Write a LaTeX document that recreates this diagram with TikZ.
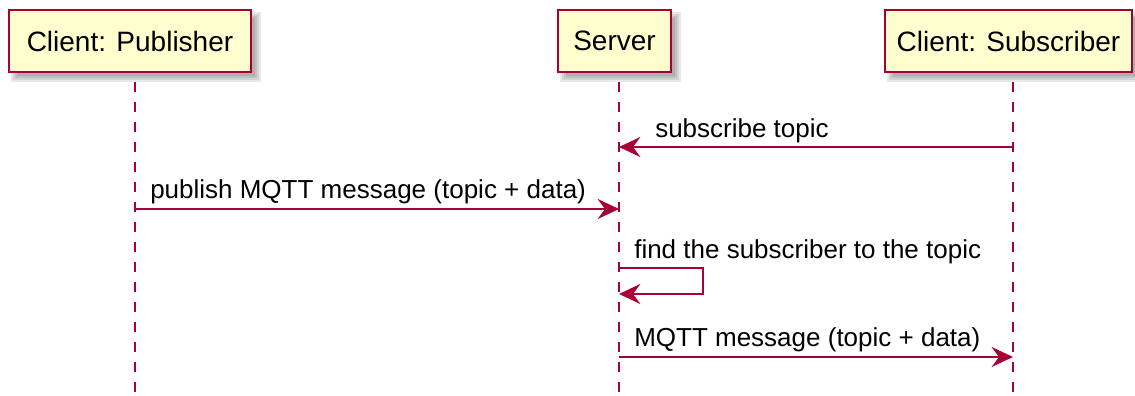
\documentclass[tikz,border=0pt]{standalone}
\usepackage{fontspec}
\setmainfont{Liberation Sans}
\usetikzlibrary{arrows.meta,calc}
\definecolor{pumlred}{HTML}{A80036}
\definecolor{pumlfill}{HTML}{FEFECE}
\newcommand{\pumlshadow}[4]{%
  \foreach \k in {-2,0,2,4}{%
    \fill[black,opacity=0.09] (#1+6-\k,#2+6-\k) rectangle (#3+6+\k,#4+6+\k);
  }%
}
\begin{document}
\begin{tikzpicture}[x=0.75pt,y=-0.75pt,
  part/.style={draw=pumlred, fill=pumlfill, line width=1.5pt, minimum height=46.5pt,
    inner sep=0pt, font=\fontsize{21}{25}\selectfont},
  life/.style={draw=pumlred, line width=1.5pt, dash pattern=on 7.5pt off 7.5pt, dash phase=7.5pt},
  msg/.style={draw=pumlred, line width=1.5pt,
    -{Stealth[length=16pt,width=15pt,inset=5.5pt]}},
  lbl/.style={anchor=base west, inner sep=0pt, font=\fontsize{19.5}{23}\selectfont}]
\useasboundingbox (0,0) rectangle (1135,396);

% lifeline coordinates
\coordinate (pubtop) at (134.5,72);
\coordinate (pubbot) at (134.5,393);
\coordinate (srvtop) at (619,72);
\coordinate (srvbot) at (619,393);
\coordinate (subtop) at (1013,72);
\coordinate (subbot) at (1013,393);

\draw[life] (pubtop) -- (pubbot);
\draw[life] (srvtop) -- (srvbot);
\draw[life] (subtop) -- (subbot);

% shadows
\pumlshadow{9}{10}{251}{72}
\pumlshadow{558}{10}{671}{72}
\pumlshadow{885}{10}{1132}{72}

% participants
\node[part, minimum width=181.5pt] (pub) at (130,41) {Client: Publisher};
\node[part, minimum width=84.75pt] (srv) at (614.5,41) {Server};
\node[part, minimum width=185.25pt] (sub) at (1008.5,41) {Client: Subscriber};

% message 1
\coordinate (m1a) at (1013,147);
\coordinate (m1b) at (619,147);
\draw[msg] (m1a) -- (m1b);
\node[lbl] (l1) at (655,137) {subscribe topic};

% message 2
\coordinate (m2a) at (134.5,209);
\coordinate (m2b) at (619,209);
\draw[msg] (m2a) -- (m2b);
\node[lbl] (l2) at (150,198) {publish MQTT message (topic + data)};

% message 3 (self)
\coordinate (m3a) at (619,268);
\coordinate (m3r1) at (703,268);
\coordinate (m3r2) at (703,294);
\coordinate (m3b) at (619,294);
\draw[msg] (m3a) -- (m3r1) -- (m3r2) -- (m3b);
\node[lbl] (l3) at (634,258) {find the subscriber to the topic};

% message 4
\coordinate (m4a) at (619,357);
\coordinate (m4b) at (1013,357);
\draw[msg] (m4a) -- (m4b);
\node[lbl] (l4) at (634,346) {MQTT message (topic + data)};
\end{tikzpicture}
\end{document}
